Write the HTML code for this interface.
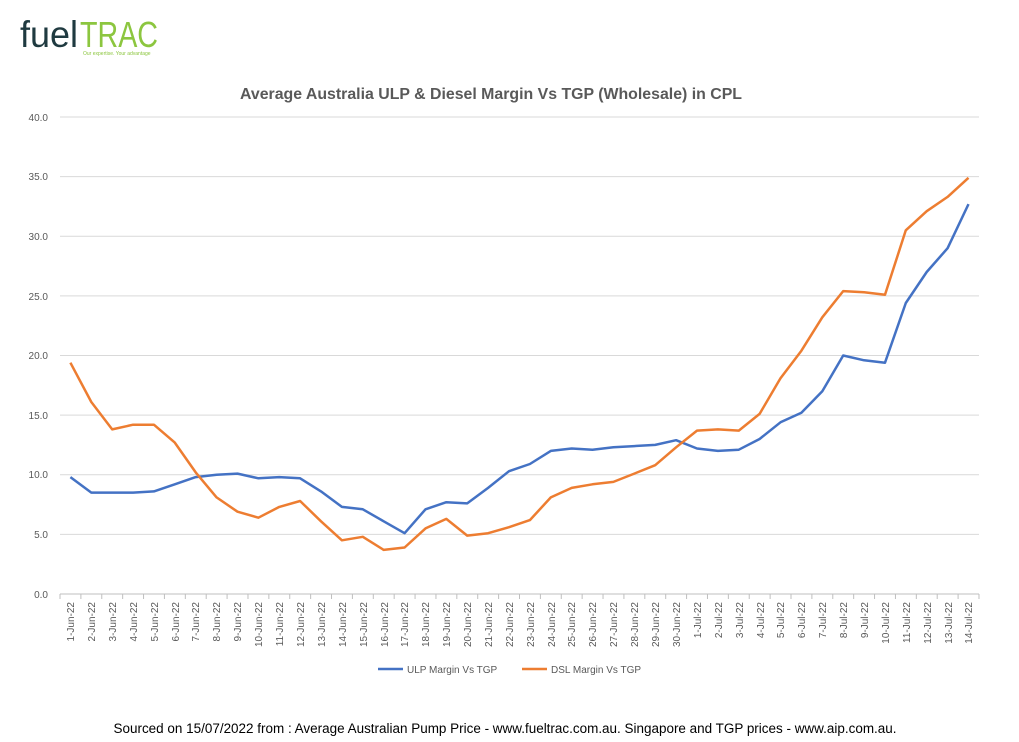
<!DOCTYPE html>
<html><head><meta charset="utf-8"><style>
html,body{margin:0;padding:0;background:#fff;}
svg{display:block;font-family:"Liberation Sans",sans-serif;}
</style></head><body>
<svg width="1019" height="742" viewBox="0 0 1019 742" xmlns="http://www.w3.org/2000/svg">
<text x="20" y="47" font-size="37" fill="#1f3a40" font-family="Liberation Sans" textLength="58" lengthAdjust="spacingAndGlyphs">fuel</text>
<text x="80" y="47" font-size="36" fill="#8cc63f" font-family="Liberation Sans" textLength="78" lengthAdjust="spacingAndGlyphs">TRAC</text>
<text x="83" y="55" font-size="5" fill="#8cc63f">Our expertise. Your advantage</text>
<text x="491" y="99" font-size="16" font-weight="bold" fill="#595959" text-anchor="middle" textLength="502" lengthAdjust="spacingAndGlyphs">Average Australia ULP &amp; Diesel Margin Vs TGP (Wholesale) in CPL</text>
<g id="grid" stroke="#d9d9d9" stroke-width="1"></g>
<g font-size="10" fill="#595959" text-anchor="end">
<text x="48" y="121">40.0</text><text x="48" y="180">35.0</text><text x="48" y="240">30.0</text><text x="48" y="300">25.0</text><text x="48" y="359">20.0</text><text x="48" y="419">15.0</text><text x="48" y="478">10.0</text><text x="48" y="538">5.0</text><text x="48" y="598">0.0</text>
</g>
<g id="xl" font-size="10" fill="#595959" text-anchor="end">
<text transform="translate(74,602) rotate(-90)">1-Jun-22</text>
<text transform="translate(95,602) rotate(-90)">2-Jun-22</text>
<text transform="translate(116,602) rotate(-90)">3-Jun-22</text>
<text transform="translate(137,602) rotate(-90)">4-Jun-22</text>
<text transform="translate(158,602) rotate(-90)">5-Jun-22</text>
<text transform="translate(179,602) rotate(-90)">6-Jun-22</text>
<text transform="translate(199,602) rotate(-90)">7-Jun-22</text>
<text transform="translate(220,602) rotate(-90)">8-Jun-22</text>
<text transform="translate(241,602) rotate(-90)">9-Jun-22</text>
<text transform="translate(262,602) rotate(-90)">10-Jun-22</text>
<text transform="translate(283,602) rotate(-90)">11-Jun-22</text>
<text transform="translate(304,602) rotate(-90)">12-Jun-22</text>
<text transform="translate(325,602) rotate(-90)">13-Jun-22</text>
<text transform="translate(346,602) rotate(-90)">14-Jun-22</text>
<text transform="translate(367,602) rotate(-90)">15-Jun-22</text>
<text transform="translate(388,602) rotate(-90)">16-Jun-22</text>
<text transform="translate(408,602) rotate(-90)">17-Jun-22</text>
<text transform="translate(429,602) rotate(-90)">18-Jun-22</text>
<text transform="translate(450,602) rotate(-90)">19-Jun-22</text>
<text transform="translate(471,602) rotate(-90)">20-Jun-22</text>
<text transform="translate(492,602) rotate(-90)">21-Jun-22</text>
<text transform="translate(513,602) rotate(-90)">22-Jun-22</text>
<text transform="translate(534,602) rotate(-90)">23-Jun-22</text>
<text transform="translate(555,602) rotate(-90)">24-Jun-22</text>
<text transform="translate(575,602) rotate(-90)">25-Jun-22</text>
<text transform="translate(596,602) rotate(-90)">26-Jun-22</text>
<text transform="translate(617,602) rotate(-90)">27-Jun-22</text>
<text transform="translate(638,602) rotate(-90)">28-Jun-22</text>
<text transform="translate(659,602) rotate(-90)">29-Jun-22</text>
<text transform="translate(680,602) rotate(-90)">30-Jun-22</text>
<text transform="translate(701,602) rotate(-90)">1-Jul-22</text>
<text transform="translate(722,602) rotate(-90)">2-Jul-22</text>
<text transform="translate(743,602) rotate(-90)">3-Jul-22</text>
<text transform="translate(764,602) rotate(-90)">4-Jul-22</text>
<text transform="translate(784,602) rotate(-90)">5-Jul-22</text>
<text transform="translate(805,602) rotate(-90)">6-Jul-22</text>
<text transform="translate(826,602) rotate(-90)">7-Jul-22</text>
<text transform="translate(847,602) rotate(-90)">8-Jul-22</text>
<text transform="translate(868,602) rotate(-90)">9-Jul-22</text>
<text transform="translate(889,602) rotate(-90)">10-Jul-22</text>
<text transform="translate(910,602) rotate(-90)">11-Jul-22</text>
<text transform="translate(931,602) rotate(-90)">12-Jul-22</text>
<text transform="translate(952,602) rotate(-90)">13-Jul-22</text>
<text transform="translate(972,602) rotate(-90)">14-Jul-22</text>
</g>
<polyline id="ulp" fill="none" stroke="#4472c4" stroke-width="2.5" stroke-linejoin="round"/>
<polyline id="dsl" fill="none" stroke="#ed7d31" stroke-width="2.5" stroke-linejoin="round"/>
<line x1="378" y1="669" x2="403" y2="669" stroke="#4472c4" stroke-width="2.5"/>
<text x="407" y="673" font-size="10" fill="#595959">ULP Margin Vs TGP</text>
<line x1="522" y1="669" x2="547" y2="669" stroke="#ed7d31" stroke-width="2.5"/>
<text x="551" y="673" font-size="10" fill="#595959">DSL Margin Vs TGP</text>
<text x="505" y="733" font-size="13.5" fill="#000" text-anchor="middle" textLength="783" lengthAdjust="spacingAndGlyphs">Sourced on 15/07/2022 from : Average Australian Pump Price - www.fueltrac.com.au.  Singapore and TGP prices - www.aip.com.au.</text>
</svg>
<script>
var ns="http://www.w3.org/2000/svg";
var g=document.getElementById('grid');
function Y(v){return 594-v*11.925;}
for(var k=1;k<=8;k++){var l=document.createElementNS(ns,'line');l.setAttribute('x1',60);l.setAttribute('x2',979);l.setAttribute('y1',Y(k*5));l.setAttribute('y2',Y(k*5));g.appendChild(l);}
var a=document.createElementNS(ns,'line');a.setAttribute('x1',60);a.setAttribute('x2',979);a.setAttribute('y1',594);a.setAttribute('y2',594);a.setAttribute('stroke','#bfbfbf');g.appendChild(a);
for(var i=0;i<=44;i++){var t=document.createElementNS(ns,'line');var x=60+i*20.886;t.setAttribute('x1',x);t.setAttribute('x2',x);t.setAttribute('y1',594);t.setAttribute('y2',599);t.setAttribute('stroke','#bfbfbf');g.appendChild(t);}
var U=[9.8,8.5,8.5,8.5,8.6,9.2,9.8,10.0,10.1,9.7,9.8,9.7,8.6,7.3,7.1,6.1,5.1,7.1,7.7,7.6,8.9,10.3,10.9,12.0,12.2,12.1,12.3,12.4,12.5,12.9,12.2,12.0,12.1,13.0,14.4,15.2,17.0,20.0,19.6,19.4,24.4,27.0,29.0,32.7];
var D=[19.4,16.1,13.8,14.2,14.2,12.7,10.2,8.1,6.9,6.4,7.3,7.8,6.1,4.5,4.8,3.7,3.9,5.5,6.3,4.9,5.1,5.6,6.2,8.1,8.9,9.2,9.4,10.1,10.8,12.3,13.7,13.8,13.7,15.1,18.1,20.4,23.2,25.4,25.3,25.1,30.5,32.1,33.3,34.9];
function pts(A){return A.map(function(v,i){return (70.4+i*20.886).toFixed(1)+','+Y(v).toFixed(1);}).join(' ');}
document.getElementById('ulp').setAttribute('points',pts(U));
document.getElementById('dsl').setAttribute('points',pts(D));
</script>
</body></html>
